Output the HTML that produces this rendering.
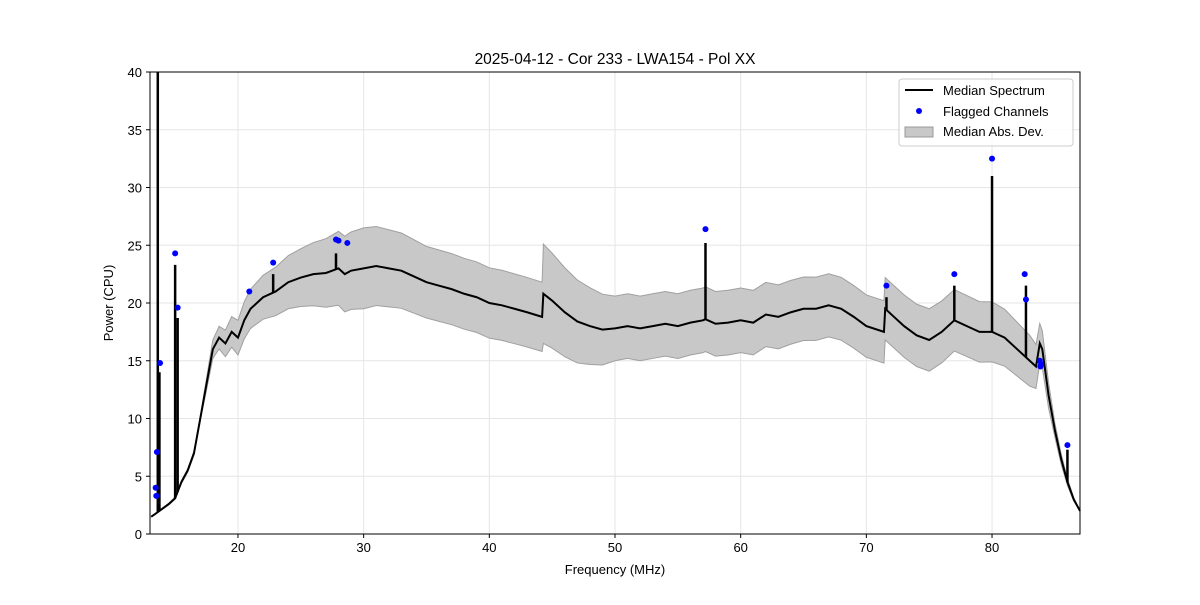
<!DOCTYPE html>
<html><head><meta charset="utf-8"><style>
body{margin:0;background:#fff;font-family:"Liberation Sans",sans-serif;}
svg text{font-family:"Liberation Sans",sans-serif;}
</style></head><body>
<svg id="chart" width="1200" height="600" viewBox="0 0 1200 600">
<rect x="0" y="0" width="1200" height="600" fill="#fff"/>
<g id="grid"></g>
<g id="band"></g>
<g id="line"></g>
<g id="pts"></g>
<rect x="150" y="72" width="930" height="462" fill="none" stroke="#000" stroke-width="1"/>
<g id="axes"></g>
<text x="615" y="64" text-anchor="middle" font-size="15.5">2025-04-12 - Cor 233 - LWA154 - Pol XX</text>
<text x="615" y="574" text-anchor="middle" font-size="13">Frequency (MHz)</text>
<text x="113" y="303" text-anchor="middle" font-size="13" transform="rotate(-90 113 303)">Power (CPU)</text>
<g>
<rect x="899" y="79" width="174" height="67" rx="3" fill="#fff" fill-opacity="0.8" stroke="#ccc"/>
<g><line x1="905" y1="90" x2="933" y2="90" stroke="#000" stroke-width="2"/><text x="943" y="95" font-size="13">Median Spectrum</text></g>
<g><circle cx="919" cy="111" r="3" fill="blue"/><text x="943" y="116" font-size="13">Flagged Channels</text></g>
<g><rect x="905" y="127" width="28" height="10" fill="#c8c8c8" stroke="#999"/><text x="943" y="136" font-size="13">Median Abs. Dev.</text></g>
</g>
</svg>
<script>
const medFreq=[13.1,13.5,14,14.5,15,15.5,16,16.5,17,17.5,18,18.5,19,19.5,20,20.5,21,22,23,24,25,26,27,28,28.5,29,30,31,32,33,34,35,36,37,38,39,40,41,42,43,44.2,44.3,45,46,47,48,49,50,51,52,53,54,55,56,57,57.2,58,59,60,61,62,63,64,65,66,67,68,69,70,71.4,71.5,72,73,74,75,76,77,78,79,80,81,82,83,83.5,83.8,84,84.5,85,85.5,86,86.5,87];
const medVal=[1.5,1.8,2.2,2.6,3.1,4.5,5.5,7,10,13,16,17,16.5,17.5,17,18.5,19.5,20.5,21,21.8,22.2,22.5,22.6,23,22.5,22.8,23,23.2,23,22.8,22.3,21.8,21.5,21.2,20.8,20.5,20,19.8,19.5,19.2,18.8,20.8,20.2,19.2,18.4,18,17.7,17.8,18,17.8,18,18.2,18,18.3,18.5,18.6,18.2,18.3,18.5,18.3,19,18.8,19.2,19.5,19.5,19.8,19.5,18.8,18,17.5,19.5,19,18,17.2,16.8,17.5,18.5,18,17.5,17.5,17,16,15,14.5,16.5,16,12,9,6.5,4.5,3,2];
const madFreq=[13,17,18,20,25,28,30,35,44.2,44.3,50,57,60,70,75,80,83,84,85,87];
const madHalf=[0,0.2,0.8,1.5,2.5,3.2,3.5,3.1,3,4.3,2.8,2.8,2.8,2.7,2.7,2.6,2.2,1.6,0.6,0];
const spikeFreq=[13.62,13.75,15,15.2,22.8,27.8,57.2,71.6,77,80,82.7,86];
const spikeTop=[40,14,23.3,18.7,22.5,24.3,25.2,20.5,21.5,31,21.5,7.3];
const flagFreq=[13.45,13.5,13.55,13.8,15,15.2,20.9,22.8,27.8,28,28.7,57.2,71.6,77,80,82.6,82.7,83.8,83.85,83.9,86];
const flagVal=[4.0,3.3,7.1,14.8,24.3,19.6,21,23.5,25.5,25.4,25.2,26.4,21.5,22.5,32.5,22.5,20.3,15,14.5,14.7,7.7];
const xTicks=[20,30,40,50,60,70,80];
const yTicks=[0,5,10,15,20,25,30,35,40];

const X=f=>150+(f-13)*930/74, Y=v=>534-v*462/40;
const NS="http://www.w3.org/2000/svg";
function mk(tag,attrs,parent){const e=document.createElementNS(NS,tag);for(const k in attrs)e.setAttribute(k,attrs[k]);parent.appendChild(e);return e;}
function half(f){for(let i=0;i<madFreq.length-1;i++){if(f>=madFreq[i]&&f<=madFreq[i+1]){const t=(f-madFreq[i])/(madFreq[i+1]-madFreq[i]);return madHalf[i]+t*(madHalf[i+1]-madHalf[i]);}}return 0;}
const grid=document.getElementById('grid'),axes=document.getElementById('axes');
xTicks.forEach(t=>{
 const g=mk('line',{x1:X(t),x2:X(t),y1:72,y2:534,stroke:'#e6e6e6'},grid);
 
 
 mk('line',{x1:X(t),x2:X(t),y1:534,y2:538,stroke:'#000'},axes);
 const tx=mk('text',{x:X(t),y:552,'text-anchor':'middle','font-size':13},axes);tx.textContent=t;
 
 
});
yTicks.forEach(t=>{
 const g=mk('line',{x1:150,x2:1080,y1:Y(t),y2:Y(t),stroke:'#e6e6e6'},grid);
 
 
 mk('line',{x1:146,x2:150,y1:Y(t),y2:Y(t),stroke:'#000'},axes);
 const tx=mk('text',{x:142,y:Y(t)+5,'text-anchor':'end','font-size':13},axes);tx.textContent=t;
 
 
});
let up=[],lo=[];
medFreq.forEach((f,i)=>{const h=half(f);up.push(X(f)+','+Y(medVal[i]+h));lo.unshift(X(f)+','+Y(Math.max(medVal[i]-h,0)));});
const band=mk('polygon',{points:up.concat(lo).join(' '),fill:'#c8c8c8',stroke:'#a0a0a0','stroke-width':1},document.getElementById('band'));


const lineG=document.getElementById('line');
const pl=mk('polyline',{points:medFreq.map((f,i)=>X(f)+','+Y(medVal[i])).join(' '),fill:'none',stroke:'#000','stroke-width':2},lineG);


spikeFreq.forEach((f,i)=>{
 let base=0;for(let j=0;j<medFreq.length-1;j++){if(f>=medFreq[j]&&f<=medFreq[j+1]){const t=(f-medFreq[j])/(medFreq[j+1]-medFreq[j]);base=medVal[j]+t*(medVal[j+1]-medVal[j]);}}
 const s=mk('line',{x1:X(f),x2:X(f),y1:Y(base),y2:Y(spikeTop[i]),stroke:'#000','stroke-width':2.5},lineG);
 
 
});
const pts=document.getElementById('pts');
flagFreq.forEach((f,i)=>{
 const c=mk('circle',{cx:X(f),cy:Y(flagVal[i]),r:3,fill:'blue'},pts);
 
 
});
</script>
</body></html>
